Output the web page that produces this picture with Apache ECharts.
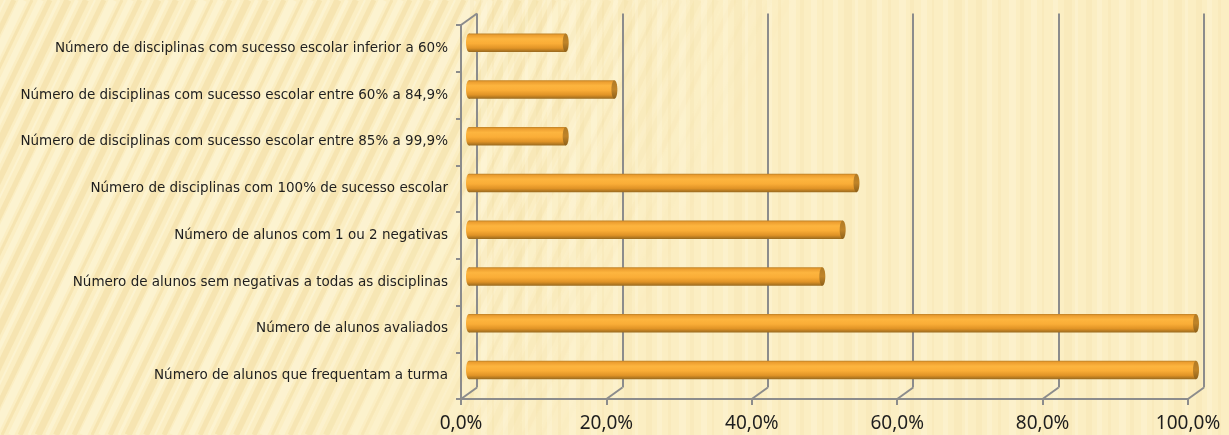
<!DOCTYPE html>
<html>
<head>
<meta charset="utf-8">
<script src="https://cdn.jsdelivr.net/npm/echarts@6/dist/echarts.min.js"></script>
<style>
html,body{margin:0;padding:0;background:#FBEEC3;}
#chart{width:1229px;height:435px;}
</style>
</head>
<body>
<div id="chart"></div>
<script>
// ---- data ----
const categories = [
  'Número de disciplinas com sucesso escolar inferior a 60%',
  'Número de disciplinas com sucesso escolar entre 60% a 84,9%',
  'Número de disciplinas com sucesso escolar entre 85% a 99,9%',
  'Número de disciplinas com 100% de sucesso escolar',
  'Número de alunos com 1 ou 2 negativas',
  'Número de alunos sem negativas a todas as disciplinas',
  'Número de alunos avaliados',
  'Número de alunos que frequentam a turma'
];
const percentValues = [13.3, 20.0, 13.3, 53.3, 51.4, 48.6, 100.0, 100.0];
const tickValues = [0, 20, 40, 60, 80, 100];

// ---- layout / style ----
const W = 1229, H = 435;
const FRONT = {left: 461, right: 41, top: 25, bottom: 36};
const DX = 16, DY = -11.5;
const BACK = {left: FRONT.left + DX, right: FRONT.right - DX, top: FRONT.top + DY, bottom: FRONT.bottom - DY};
const MID = {left: FRONT.left + DX / 2, right: FRONT.right - DX / 2, top: FRONT.top + DY / 2, bottom: FRONT.bottom - DY / 2};
const AXIS_COLOR = '#8C8C8C';
const BAR_H = 18.5;

// background pattern
function makeBg() {
  const c = document.createElement('canvas');
  c.width = W; c.height = H;
  const g = c.getContext('2d');
  g.fillStyle = '#FBEEC3';
  g.fillRect(0, 0, W, H);
  const seq = [5, 3, 7, 4, 6, 2, 5, 8, 3, 6];
  let k = 0;
  for (let x = -250; x < 640; x += 9) {
    const w = seq[k % seq.length];
    const dark = k % 2 === 0;
    const fade = Math.max(0, Math.min(1, (600 - x) / 350));
    g.strokeStyle = dark ? 'rgba(228,195,115,' + (0.22 * fade) + ')' : 'rgba(255,250,228,' + (0.4 * fade) + ')';
    g.lineWidth = w;
    g.beginPath();
    g.moveTo(x, H);
    g.lineTo(x + 210, 0);
    g.stroke();
    k++;
  }
  k = 0;
  for (let x = 470; x < W; x += 11) {
    const w = seq[(k + 3) % seq.length];
    const dark = k % 2 === 0;
    g.fillStyle = dark ? 'rgba(235,205,130,0.1)' : 'rgba(255,250,232,0.25)';
    g.fillRect(x, 0, w, H);
    k++;
  }
  return c;
}

const bodyGradient = {
  type: 'linear', x: 0, y: 0, x2: 0, y2: 1,
  colorStops: [
    {offset: 0, color: '#B97E25'},
    {offset: 0.1, color: '#EC9E30'},
    {offset: 0.3, color: '#FDB53F'},
    {offset: 0.55, color: '#FAAD37'},
    {offset: 0.8, color: '#E09326'},
    {offset: 1, color: '#9A6A1E'}
  ]
};
const capGradient = {
  type: 'linear', x: 0, y: 0, x2: 0, y2: 1,
  colorStops: [
    {offset: 0, color: '#B07A25'},
    {offset: 0.5, color: '#C08428'},
    {offset: 1, color: '#8E6019'}
  ]
};

const barData = percentValues.map((v, i) => [v, i]);

const chart = echarts.init(document.getElementById('chart'), null, {renderer: 'canvas'});
const option = {
  animation: false,
  backgroundColor: {image: makeBg(), repeat: 'no-repeat'},
  grid: [
    Object.assign({}, FRONT, {containLabel: false}),
    Object.assign({}, BACK, {containLabel: false}),
    Object.assign({}, MID, {containLabel: false})
  ],
  xAxis: [
    {
      gridIndex: 0, type: 'value', min: 0, max: 100, interval: 20,
      axisLine: {show: true, lineStyle: {color: AXIS_COLOR, width: 2}},
      axisTick: {show: true, length: 6, lineStyle: {color: AXIS_COLOR, width: 2}},
      axisLabel: {
        color: '#1E1E1E', fontSize: 19, fontFamily: 'Noto Sans', margin: 15,
        formatter: v => v.toFixed(1).replace('.', ',') + '%'
      },
      splitLine: {show: false}
    },
    {
      gridIndex: 1, type: 'value', min: 0, max: 100, interval: 20,
      axisLine: {show: false}, axisTick: {show: false}, axisLabel: {show: false},
      splitLine: {show: true, lineStyle: {color: AXIS_COLOR, width: 2}}
    },
    {
      gridIndex: 2, type: 'value', min: 0, max: 100, show: false
    }
  ],
  yAxis: [
    {
      gridIndex: 0, type: 'category', data: categories, inverse: true,
      axisLine: {show: true, lineStyle: {color: AXIS_COLOR, width: 2}},
      axisTick: {show: true, length: 5, lineStyle: {color: AXIS_COLOR, width: 2}},
      axisLabel: {color: '#1E1E1E', fontSize: 13.5, fontFamily: 'DejaVu Sans', margin: 13},
      splitLine: {show: false}
    },
    {
      gridIndex: 1, type: 'category', data: categories, inverse: true, show: false
    },
    {
      gridIndex: 2, type: 'category', data: categories, inverse: true, show: false
    }
  ],
  series: [
    {
      type: 'custom',
      xAxisIndex: 0, yAxisIndex: 0,
      data: tickValues.map(v => [v]),
      silent: true,
      renderItem: function (params, api) {
        const cs = params.coordSys;
        const x = api.coord([api.value(0), 0])[0];
        const yb = cs.y + cs.height;
        const children = [{
          type: 'line',
          shape: {x1: x, y1: yb, x2: x + DX, y2: yb + DY},
          style: {stroke: AXIS_COLOR, lineWidth: 2}
        }];
        if (params.dataIndex === 0) {
          children.push({
            type: 'line',
            shape: {x1: cs.x, y1: cs.y, x2: cs.x + DX, y2: cs.y + DY},
            style: {stroke: AXIS_COLOR, lineWidth: 2}
          });
        }
        return {type: 'group', children: children};
      },
      z: 1
    },
    {
      type: 'custom',
      xAxisIndex: 2, yAxisIndex: 2,
      data: barData,
      encode: {x: 0, y: 1},
      renderItem: function (params, api) {
        const s = api.coord([0, api.value(1)]);
        const e = api.coord([api.value(0), api.value(1)]);
        const rx = 3;
        return {
          type: 'group',
          children: [
            {type: 'ellipse', shape: {cx: s[0], cy: s[1], rx: rx, ry: BAR_H / 2}, style: {fill: bodyGradient}},
            {type: 'rect', shape: {x: s[0], y: s[1] - BAR_H / 2, width: e[0] - s[0], height: BAR_H}, style: {fill: bodyGradient}},
            {type: 'ellipse', shape: {cx: e[0], cy: e[1], rx: rx, ry: BAR_H / 2}, style: {fill: capGradient}}
          ]
        };
      },
      z: 5
    }
  ]
};
chart.setOption(option);
</script>
</body>
</html>
